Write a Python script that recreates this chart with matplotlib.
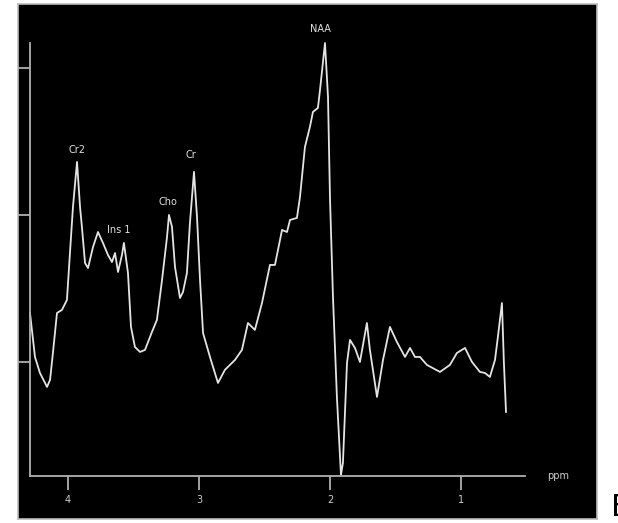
import matplotlib
matplotlib.use('Agg')
import matplotlib.pyplot as plt

# spectrum (chemical shift in ppm, signal in arbitrary units)
ppm = [4.290, 4.252, 4.214, 4.160, 4.137, 4.115, 4.084, 4.046, 4.008, 3.985,
       3.962, 3.931, 3.908, 3.893, 3.870, 3.847, 3.809, 3.771, 3.733, 3.695,
       3.664, 3.641, 3.618, 3.588, 3.573, 3.542, 3.519, 3.489, 3.450, 3.412,
       3.359, 3.321, 3.282, 3.244, 3.229, 3.206, 3.183, 3.145, 3.122, 3.092,
       3.069, 3.038, 3.015, 2.992, 2.969, 2.916, 2.855, 2.802, 2.725, 2.672,
       2.626, 2.573, 2.519, 2.458, 2.420, 2.366, 2.328, 2.305, 2.252, 2.229,
       2.191, 2.153, 2.130, 2.092, 2.076, 2.038, 2.015, 2.000, 1.977, 1.947,
       1.916, 1.901, 1.870, 1.847, 1.809, 1.771, 1.718, 1.695, 1.641, 1.595,
       1.542, 1.489, 1.427, 1.389, 1.351, 1.313, 1.260, 1.160, 1.084, 1.031,
       0.969, 0.916, 0.855, 0.817, 0.779, 0.740, 0.718, 0.687, 0.672, 0.656]
signal = [1.333, 1.034, 0.925, 0.830, 0.878, 1.061, 1.333, 1.354, 1.422, 1.741,
          2.054, 2.361, 2.054, 1.912, 1.673, 1.639, 1.782, 1.884, 1.810, 1.728,
          1.680, 1.741, 1.612, 1.728, 1.810, 1.605, 1.238, 1.102, 1.068, 1.082,
          1.204, 1.286, 1.558, 1.850, 2.000, 1.918, 1.646, 1.435, 1.476, 1.605,
          1.946, 2.293, 1.986, 1.558, 1.197, 1.034, 0.857, 0.946, 1.014, 1.082,
          1.265, 1.218, 1.401, 1.660, 1.660, 1.898, 1.884, 1.966, 1.980, 2.122,
          2.463, 2.599, 2.701, 2.728, 2.850, 3.170, 2.803, 2.122, 1.442, 0.762,
          0.231, 0.313, 0.993, 1.150, 1.095, 1.000, 1.265, 1.082, 0.762, 1.014,
          1.238, 1.136, 1.034, 1.095, 1.034, 1.034, 0.980, 0.932, 0.980, 1.061,
          1.095, 1.000, 0.932, 0.925, 0.898, 1.014, 1.170, 1.401, 0.993, 0.660]

# peak labels
peak_names = ['Cr2', 'Ins 1', 'Cho', 'Cr', 'NAA']
peak_ppm = [3.931, 3.611, 3.237, 3.061, 2.069]
peak_sig = [2.442, 1.898, 2.088, 2.408, 3.265]

xticks = [4, 3, 2, 1]
yticks = [1, 2, 3]

W, H = 618, 523
fig = plt.figure(figsize=(W / 100, H / 100), dpi=100)
fig.patch.set_facecolor('white')

# black panel behind the spectrum
bg = fig.add_axes([18 / W, 4 / H, 579 / W, 515 / H])
bg.set_facecolor('black')
bg.set_xticks([])
bg.set_yticks([])
for s in bg.spines.values():
    s.set_color('#bdbdbd')
    s.set_linewidth(1.2)

ax = fig.add_axes([30 / W, (H - 476) / H, 495 / W, 433 / H])
ax.set_facecolor('none')
ax.plot(ppm, signal, color='#e4e4e4', linewidth=1.3, clip_on=False)

ax.set_xlim(4.290, 0.511)
ax.set_ylim(0.224, 3.170)

for s in ['top', 'right']:
    ax.spines[s].set_visible(False)
for s in ['left', 'bottom']:
    ax.spines[s].set_color('#b0b0b0')
    ax.spines[s].set_linewidth(1.3)

ax.set_xticks(xticks)
ax.set_xticklabels([str(t) for t in xticks])
ax.set_yticks(yticks)
ax.set_yticklabels([])
ax.tick_params(axis='x', colors='#b0b0b0', length=10, width=1.3, pad=4, labelsize=7,
               labelcolor='#cfcfcf')
ax.tick_params(axis='y', colors='#b0b0b0', length=8.5, width=1.3)

for name, px, py in zip(peak_names, peak_ppm, peak_sig):
    ax.text(px, py, name, color='#e0e0e0', fontsize=7, ha='center', va='center')

ax.text(1.067, 0.0, 'ppm', transform=ax.transAxes, color='#cfcfcf', fontsize=7,
        ha='center', va='center')

fig.text(611 / W, 1 / H, 'B', color='black', fontsize=22, ha='left', va='bottom')

fig.savefig('out.png', dpi=100)
